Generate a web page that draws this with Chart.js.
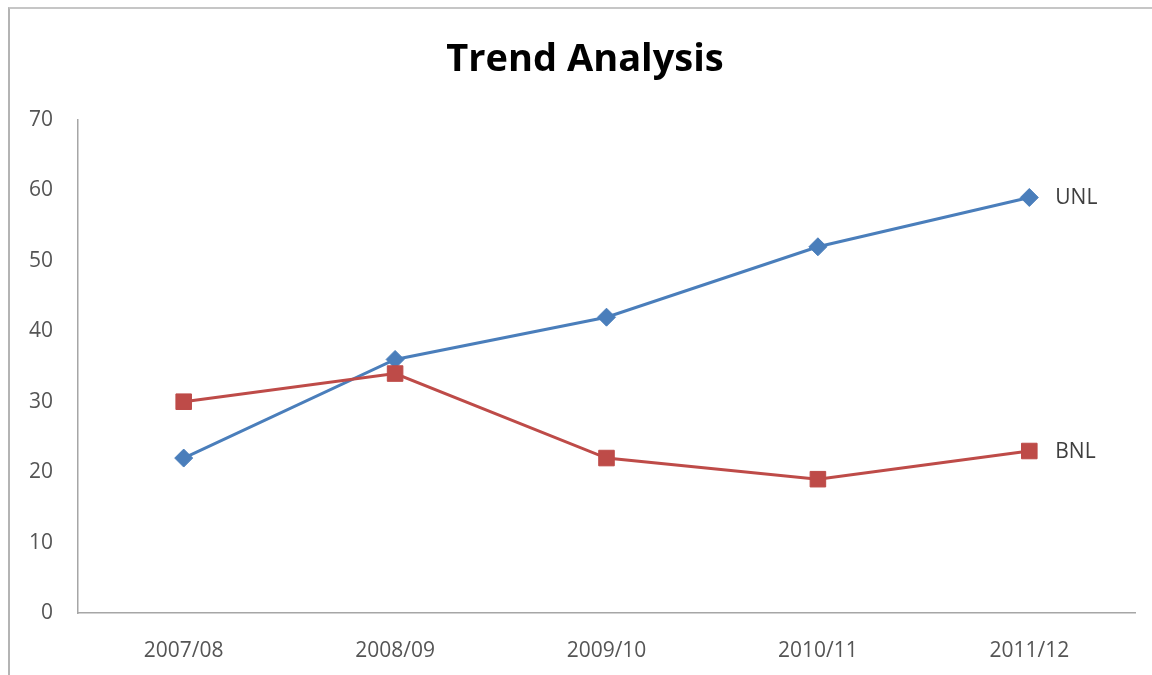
<!DOCTYPE html>
<html>
<head>
<meta charset="utf-8">
<title>Trend Analysis</title>
<script src="https://cdn.jsdelivr.net/npm/chart.js@4.4.1/dist/chart.umd.min.js"></script>
<style>
  html, body { margin: 0; padding: 0; background: #ffffff; }
  #wrap { position: relative; width: 1152px; height: 675px; overflow: hidden; }
  #frame {
    position: absolute; left: 8px; top: 7px; right: -4px; bottom: -4px;
    border-left: 2px solid #b4b4b4; border-top: 2px solid #c6c6c6;
    pointer-events: none;
  }
  canvas { position: absolute; left: 0; top: 0; }
</style>
</head>
<body>
<div id="wrap">
  <canvas id="chart" width="1152" height="675"></canvas>
  <div id="frame"></div>
</div>
<script>
// Financial years on the category axis
const years = ['2007/08', '2008/09', '2009/10', '2010/11', '2011/12'];

// Series values per year
const unlValues = [22, 36, 42, 52, 59];
const bnlValues = [30, 34, 22, 19, 23];

// Value axis range
const yMin = 0;
const yMax = 70;
const yStep = 10;

const chartTitle = 'Trend Analysis';
const fontStack = "'Open Sans', 'Liberation Sans', sans-serif";
const labelFont = { family: fontStack, size: 21 };

// Heading, centred a little left of the plot's middle
const heading = {
  id: 'heading',
  afterDraw(chart) {
    const ctx = chart.ctx;
    ctx.save();
    ctx.font = 'bold 38px ' + fontStack;
    ctx.fillStyle = '#000000';
    ctx.textAlign = 'center';
    ctx.textBaseline = 'alphabetic';
    ctx.fillText(chartTitle, 585, 71);
    ctx.restore();
  }
};

// Writes each series name just right of its final point
const endLabels = {
  id: 'endLabels',
  afterDatasetsDraw(chart) {
    const ctx = chart.ctx;
    ctx.save();
    ctx.font = '21px ' + fontStack;
    ctx.fillStyle = '#3f3f3f';
    ctx.textAlign = 'left';
    ctx.textBaseline = 'middle';
    chart.data.datasets.forEach((ds, i) => {
      const meta = chart.getDatasetMeta(i);
      const pt = meta.data[meta.data.length - 1];
      if (pt) ctx.fillText(ds.label, pt.x + 26, pt.y + 1);
    });
    ctx.restore();
  }
};

new Chart(document.getElementById('chart'), {
  type: 'line',
  data: {
    labels: years,
    datasets: [
      {
        label: 'UNL',
        data: unlValues,
        borderColor: '#4a7ebb',
        backgroundColor: '#4a7ebb',
        borderWidth: 3,
        pointStyle: 'rectRot',
        pointRadius: 9,
        pointBorderWidth: 1,
        pointBorderColor: '#4a7ebb',
        tension: 0,
        order: 2
      },
      {
        label: 'BNL',
        data: bnlValues,
        borderColor: '#be4b48',
        backgroundColor: '#be4b48',
        borderWidth: 3,
        pointStyle: 'rect',
        pointRadius: 11,
        pointBorderWidth: 1,
        pointBorderColor: '#be4b48',
        tension: 0,
        order: 1
      }
    ]
  },
  options: {
    responsive: false,
    animation: false,
    events: [],
    layout: { padding: { left: 0, right: 17, top: 120, bottom: 0 } },
    plugins: {
      legend: { display: false },
      tooltip: { enabled: false },
      title: { display: false }
    },
    scales: {
      x: {
        type: 'category',
        offset: true,
        grid: { display: false, drawTicks: false },
        border: { display: true, color: '#a6a6a6', width: 1.5 },
        ticks: { color: '#555555', font: labelFont, padding: 25, maxRotation: 0, autoSkip: false },
        afterFit(scale) { scale.height = 62; }
      },
      y: {
        min: yMin,
        max: yMax,
        grid: { display: false, drawTicks: false },
        border: { display: true, color: '#a6a6a6', width: 1.5 },
        ticks: { stepSize: yStep, color: '#555555', font: labelFont, padding: 25 },
        afterFit(scale) { scale.width = 78; }
      }
    }
  },
  plugins: [endLabels, heading]
});
</script>
</body>
</html>
